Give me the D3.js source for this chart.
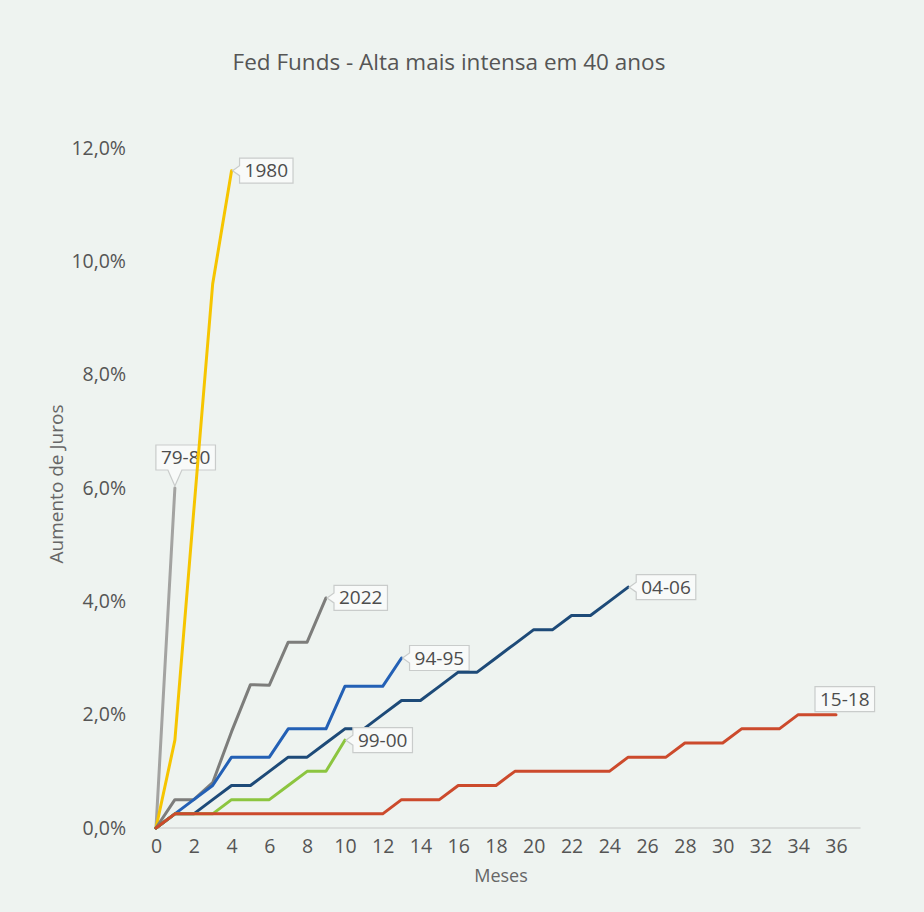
<!DOCTYPE html>
<html>
<head>
<meta charset="utf-8">
<script src="https://cdn.jsdelivr.net/npm/d3@7"></script>
<style>
  html, body { margin: 0; padding: 0; background: #eef3f0; }
  svg { display: block; }
  text { font-family: "Open Sans", "Noto Sans", sans-serif; }
</style>
</head>
<body>
<svg id="chart" width="924" height="912"></svg>
<script>
// ---- Data (value index = months since first hike) ----
const seriesNames = ["79-80", "1980", "2022", "94-95", "04-06", "99-00", "15-18"];
const values7980 = [0, 6.0];
const values1980 = [0, 1.55, 5.6, 9.6, 11.6];
const values2022 = [0, 0.5, 0.5, 0.8, 1.7, 2.53, 2.52, 3.28, 3.28, 4.06];
const values9495 = [0, 0.25, 0.5, 0.75, 1.25, 1.25, 1.25, 1.75, 1.75, 1.75, 2.5, 2.5, 2.5, 3.0];
const values0406 = [0, 0.25, 0.25, 0.5, 0.75, 0.75, 1.0, 1.25, 1.25, 1.5, 1.75, 1.75, 2.0, 2.25, 2.25, 2.5, 2.75, 2.75, 3.0, 3.25, 3.5, 3.5, 3.75, 3.75, 4.0, 4.25];
const values9900 = [0, 0.25, 0.25, 0.25, 0.5, 0.5, 0.5, 0.75, 1.0, 1.0, 1.55];
const values1518 = [0, 0.25, 0.25, 0.25, 0.25, 0.25, 0.25, 0.25, 0.25, 0.25, 0.25, 0.25, 0.25,
                    0.5, 0.5, 0.5, 0.75, 0.75, 0.75, 1.0, 1.0, 1.0, 1.0, 1.0, 1.0,
                    1.25, 1.25, 1.25, 1.5, 1.5, 1.5, 1.75, 1.75, 1.75, 2.0, 2.0, 2.0];
const xTicks = d3.range(0, 37, 2);
const yTicks = [0, 2, 4, 6, 8, 10, 12];
const titleText = "Fed Funds - Alta mais intensa em 40 anos";
const xTitle = "Meses";
const yTitle = "Aumento de Juros";

// ---- Styles / placement (kept separate from data) ----
const seriesValues = [values7980, values1980, values2022, values9495, values0406, values9900, values1518];
const colors = {
  "79-80": "#a3a3a1", "1980": "#f6c500", "2022": "#7d7d7b", "94-95": "#2360b5",
  "04-06": "#1d4a78", "99-00": "#8cc53f", "15-18": "#cc4a2c"
};
const labelMode = {
  "79-80": "up", "1980": "right", "2022": "right", "94-95": "right",
  "04-06": "right", "99-00": "right", "15-18": "upTight"
};

const svg = d3.select("#chart");
const W = 924, H = 912;
svg.append("rect").attr("width", W).attr("height", H).attr("fill", "#eef3f0");

const x = d3.scaleLinear().domain([0, 36]).range([156, 836]);
const y = d3.scaleLinear().domain([0, 12]).range([828, 148]);

// title
svg.append("text")
  .attr("x", 449).attr("y", 70)
  .attr("text-anchor", "middle")
  .attr("font-size", 22.5)
  .attr("fill", "#555")
  .text(titleText);

// x axis baseline
svg.append("line")
  .attr("x1", x(0)).attr("x2", x(37.3))
  .attr("y1", y(0)).attr("y2", y(0))
  .attr("stroke", "#d3d6d4").attr("stroke-width", 1.5);

// x axis ticks
const xAxis = d3.axisBottom(x).tickValues(xTicks).tickSize(0).tickPadding(11).tickFormat(d3.format("d"));
const gx = svg.append("g").attr("transform", `translate(0,${y(0)})`).call(xAxis);
gx.select(".domain").remove();
gx.selectAll("text").attr("font-size", 19.5).attr("fill", "#555")
  .attr("font-family", "'Open Sans', sans-serif");

// y axis ticks
const fmtPct = v => d3.format(".1f")(v).replace(".", ",") + "%";
const yAxis = d3.axisLeft(y).tickValues(yTicks).tickSize(0).tickPadding(30).tickFormat(fmtPct);
const gy = svg.append("g").attr("transform", `translate(${x(0)},0)`).call(yAxis);
gy.select(".domain").remove();
gy.selectAll("text").attr("font-size", 19.5).attr("fill", "#555")
  .attr("font-family", "'Open Sans', sans-serif");

// axis titles
svg.append("text")
  .attr("x", 501).attr("y", 882)
  .attr("text-anchor", "middle")
  .attr("font-size", 18).attr("fill", "#666")
  .text(xTitle);
svg.append("text")
  .attr("transform", "translate(63,484) rotate(-90)")
  .attr("text-anchor", "middle")
  .attr("font-size", 19).attr("fill", "#666")
  .text(yTitle);

const line = d3.line().x((d, i) => x(i)).y(d => y(d));

seriesNames.forEach((name, k) => {
  const vals = seriesValues[k];
  const g = svg.append("g");
  g.append("path")
    .datum(vals)
    .attr("d", line)
    .attr("fill", "none")
    .attr("stroke", colors[name])
    .attr("stroke-width", 3)
    .attr("stroke-linejoin", "round")
    .attr("stroke-linecap", "round");

  // callout label at last point
  const last = vals.length - 1;
  const ex = x(last), ey = y(vals[last]);
  const lg = g.append("g");
  const txt = lg.append("text")
    .attr("font-size", 19).attr("fill", "#4d4d4d")
    .text(name);
  const tw = txt.node().getComputedTextLength();
  const bw = tw + 10, bh = 25;
  let bx, by, pathD;
  const mode = labelMode[name];
  if (mode === "right") {
    bx = ex + 8; by = ey - bh / 2;
    pathD = `M${bx},${by} H${bx + bw} V${by + bh} H${bx} V${ey + 5} L${ex + 1},${ey} L${bx},${ey - 5} Z`;
  } else if (mode === "up") {
    bx = ex - 19; by = ey - 18 - bh;
    const bb = by + bh;
    pathD = `M${bx},${by} H${bx + bw} V${bb} H${ex + 7} L${ex},${ey - 2} L${ex - 7},${bb} H${bx} Z`;
  } else {
    bx = ex - 21; by = ey - 3 - bh;
    pathD = `M${bx},${by} H${bx + bw} V${by + bh} H${bx} Z`;
  }
  lg.insert("path", "text")
    .attr("d", pathD)
    .attr("fill", "#f8faf9")
    .attr("stroke", "#c9cccb")
    .attr("stroke-width", 1.2);
  txt.attr("x", bx + 5).attr("y", by + bh / 2 + 6.5);
});
</script>
</body>
</html>
